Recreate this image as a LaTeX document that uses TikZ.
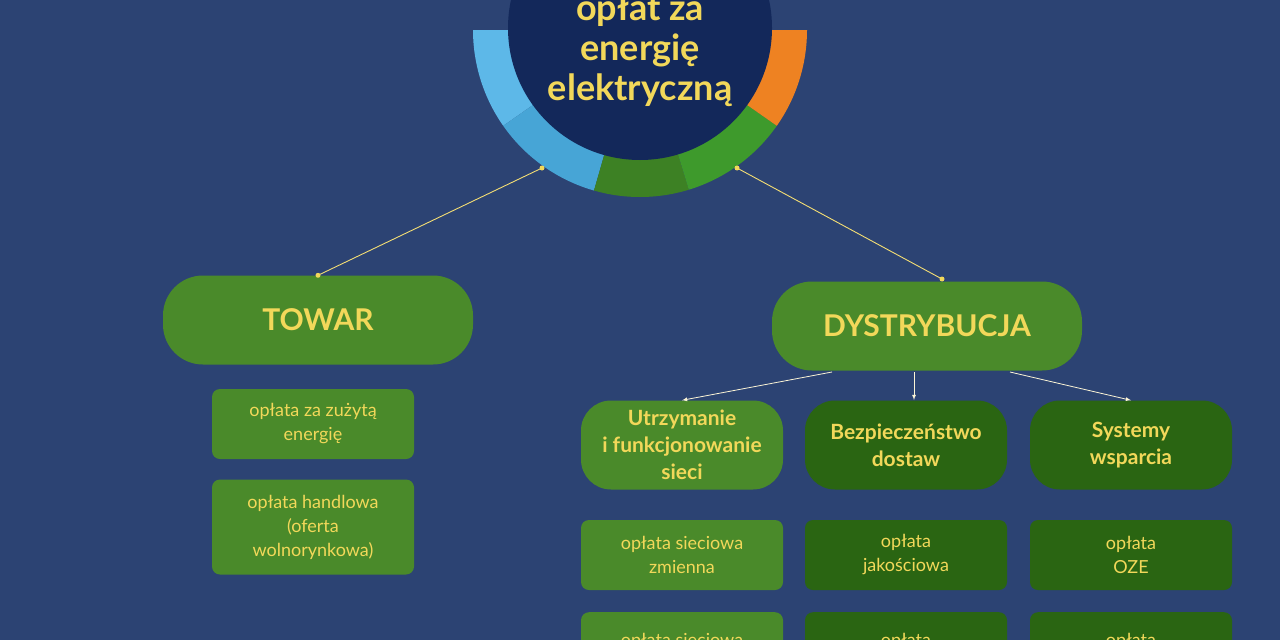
\documentclass[tikz,border=0pt]{standalone}
\usepackage{fontspec}
\setmainfont{Lato}
\usetikzlibrary{positioning}
\definecolor{bgblue}{HTML}{2C4373}
\definecolor{navy}{HTML}{13285A}
\definecolor{midgreen}{HTML}{4A8A2A}
\definecolor{darkgreen}{HTML}{2A6512}
\definecolor{txtyellow}{HTML}{F2D85A}
\definecolor{ringA}{HTML}{5DB8E8}
\definecolor{ringB}{HTML}{47A5D6}
\definecolor{ringC}{HTML}{3D8124}
\definecolor{ringD}{HTML}{3E9A2C}
\definecolor{ringE}{HTML}{EE8222}
\tikzset{
  box/.style={rectangle,rounded corners=#1,inner sep=0pt,align=center,text=txtyellow},
  top/.style={box=40pt,fill=midgreen,minimum width=310pt,minimum height=89pt,font=\bfseries\fontsize{30}{32}\selectfont},
  head/.style={box=30pt,minimum width=202pt,minimum height=89pt,font=\bfseries\fontsize{21}{27}\selectfont},
  leaf/.style={box=8pt,minimum width=202pt,minimum height=70pt,font=\fontsize{18}{24}\selectfont},
  link/.style={draw=txtyellow!85!white,line width=0.9pt},
  sub/.style={draw=white!75!txtyellow,line width=0.8pt,-latex},
}
\begin{document}
\begin{tikzpicture}[x=1pt,y=-1pt]
  \useasboundingbox (0,0) rectangle (1280,640);
  \clip (0,0) rectangle (1280,640);
  \fill[bgblue] (0,0) rectangle (1280,640);

  %%% RING %%%
  \coordinate (c) at (640,30);
  \foreach \a/\b/\col in {180/145/ringA,145/106/ringB,106/73/ringC,73/35/ringD,35/0/ringE}
    \fill[\col] (c) -- ([shift={(\a:167)}]c) arc[start angle=\a,end angle=\b,radius=167] -- cycle;
  \fill[navy] (640,28) circle (132);
  \node[align=center,text=txtyellow,font=\bfseries\fontsize{36}{40}\selectfont] (title) at (640,50) {opłat za\\energię\\elektryczną};

  %%% MAIN BOXES %%%
  \node[top] (towar) at (318,320) {TOWAR};
  \node[top] (dystr) at (927,326) {DYSTRYBUCJA};
  \coordinate (l1) at (542,168);
  \coordinate (r1) at (737,168);
  \coordinate (r2) at (942,279);
  \draw[link] (l1) -- (towar.north);
  \draw[link] (r1) -- (r2);
  \foreach \p in {l1,r1,r2,towar.north} \fill[txtyellow] (\p) circle (2.5);

  %%% TOWAR %%%
  \node[leaf,fill=midgreen] (zuz) at (313,424) {opłata za zużytą\\energię};
  \node[leaf,fill=midgreen,minimum height=95pt] (handl) at (313,527) {opłata handlowa\\(oferta\\wolnorynkowa)};

  %%% DYSTRYBUCJA %%%
  \node[head,fill=midgreen] (utrz) at (682,445) {Utrzymanie\\i funkcjonowanie\\sieci};
  \node[head,fill=darkgreen] (bezp) at (906,445) {Bezpieczeństwo\\dostaw};
  \node[head,fill=darkgreen] (syst) at (1131,445) {Systemy\\wsparcia};
  \coordinate (d1) at (832,372);
  \coordinate (d2) at (914,372);
  \coordinate (d3) at (1010,372);
  \coordinate (b2) at (914,400);
  \draw[sub] (d1) -- (utrz.north);
  \draw[sub] (d2) -- (b2);
  \draw[sub] (d3) -- (syst.north);

  \node[leaf,fill=midgreen] (sz) at (682,555) {opłata sieciowa\\zmienna};
  \node[leaf,fill=darkgreen] (jak) at (906,555) {opłata\\jakościowa};
  \node[leaf,fill=darkgreen] (oze) at (1131,555) {opłata\\OZE};
  \node[leaf,fill=midgreen,anchor=north,text height=34pt,text depth=36pt] (ss) at (682,612) {opłata sieciowa};
  \node[leaf,fill=darkgreen,anchor=north,text height=34pt,text depth=36pt] (p2) at (906,612) {opłata};
  \node[leaf,fill=darkgreen,anchor=north,text height=34pt,text depth=36pt] (p3) at (1131,612) {opłata};
\end{tikzpicture}
\end{document}
